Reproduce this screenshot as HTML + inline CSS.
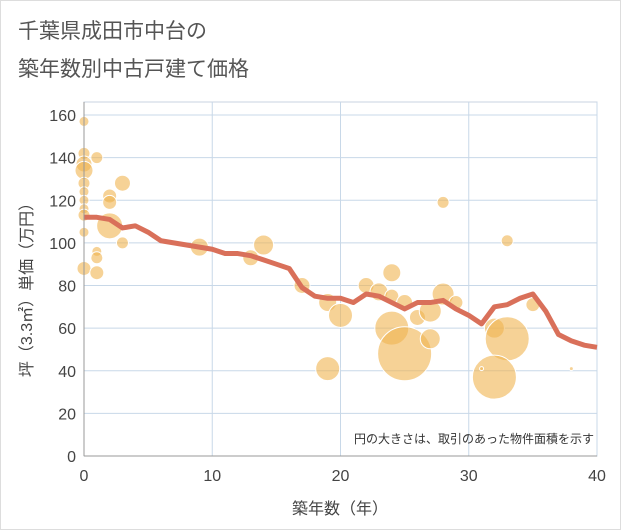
<!DOCTYPE html>
<html><head><meta charset="utf-8"><style>
body{margin:0;background:#fff;}
svg{display:block;font-family:"Liberation Sans","Noto Sans CJK JP",sans-serif;}
</style></head><body>
<svg width="621" height="530" viewBox="0 0 621 530">
<rect x="0.5" y="0.5" width="620" height="529" fill="#fff" stroke="#ddd"/>
<text x="18" y="38" font-size="21" fill="#555">千葉県成田市中台の</text>
<text x="18" y="76" font-size="21" fill="#555">築年数別中古戸建て価格</text>
<g id="grid"></g>
<g id="bubbles"></g>
<g id="line"></g>
<g id="axes"></g>
<text x="594" y="443" font-size="12" fill="#333" text-anchor="end">円の大きさは、取引のあった物件面積を示す</text>
<text x="340" y="514" font-size="16" fill="#444" text-anchor="middle">築年数（年）</text>
<text transform="translate(32,286) rotate(-90)" font-size="16" fill="#444" text-anchor="middle">坪（3.3㎡）単価（万円）</text>
</svg>
<script>
const xTicks=[0,10,20,30,40];
const yTicks=[0,20,40,60,80,100,120,140,160];
const bubbleX=[0,0,0,0,0,0,0,0,0,0,0,1,2,2,3,2,3,1,1,1,9,13,14,17,19,20,19,22,23,24,24,25,24,25,26,27,27,28,29,32,33,32,31,33,35,28,38];
const bubbleY=[157,142,137,134,128,124,120,116,113,105,88,140,122,119,128,108,100,96,93,86,98,93,99,80,72,66,41,80,77,86,75,72,60,48,65,68,55,76,72,60,55,37,41,101,71,119,41];
const bubbleSize=[5,6,8,9,6,5,5,5,6,5,7,6,7,7,8,13,6,5,6,7,9,8,10,8,9,12,12,8,9,9,7,8,17,27,8,11,10,11,7,10,22,22,2,6,7,6,2];
const lineX=[0,1,2,3,4,5,6,7,8,9,10,11,12,13,14,15,16,17,18,19,20,21,22,23,24,25,26,27,28,29,30,31,32,33,34,35,36,37,38,39,40];
const lineY=[112,112,111,107,108,105,101,100,99,98,97,95,95,94,92,90,88,79,75,74,74,72,76,75,72,69,72,72,73,69,66,62,70,71,74,76,68,57,54,52,51];
const X0=84,X1=597,Y0=456,Y1=115;
const sx=v=>X0+(v-0)/40*(X1-X0);
const sy=v=>Y0-(v-0)/160*(Y0-Y1);
const NS="http://www.w3.org/2000/svg";
function mk(t,a,p){const e=document.createElementNS(NS,t);for(const k in a)e.setAttribute(k,a[k]);p.appendChild(e);return e;}
const grid=document.getElementById('grid'),axes=document.getElementById('axes');
mk('rect',{x:X0,y:102,width:X1-X0,height:Y0-102,fill:'none',stroke:'#c8d3e0'},grid);
xTicks.forEach(t=>{const l=mk('line',{x1:sx(t),x2:sx(t),y1:102,y2:Y0,stroke:'#c8d8e8'},grid);


const tx=mk('text',{x:sx(t),y:481,'font-size':16,fill:'#444','text-anchor':'middle'},axes);tx.textContent=t;

});
yTicks.forEach(t=>{const l=mk('line',{x1:X0,x2:X1,y1:sy(t),y2:sy(t),stroke:'#c8d8e8'},grid);


const tx=mk('text',{x:76,y:sy(t)+6,'font-size':16,fill:'#444','text-anchor':'end'},axes);tx.textContent=t;

});
mk('line',{x1:X0,x2:X0,y1:102,y2:Y0,stroke:'#999'},axes);
mk('line',{x1:X0,x2:X1,y1:Y0,y2:Y0,stroke:'#999'},axes);
const bg=document.getElementById('bubbles');
bubbleX.forEach((v,i)=>{const c=mk('circle',{cx:sx(v),cy:sy(bubbleY[i]),r:bubbleSize[i],fill:'rgba(240,180,80,0.6)',stroke:'#fff','stroke-width':1},bg);

});
const pts=lineX.map((v,i)=>sx(v)+','+sy(lineY[i])).join(' ');
const pl=mk('polyline',{points:pts,fill:'none',stroke:'#d9705a','stroke-width':5,'stroke-linejoin':'round'},document.getElementById('line'));


</script>
</body></html>
